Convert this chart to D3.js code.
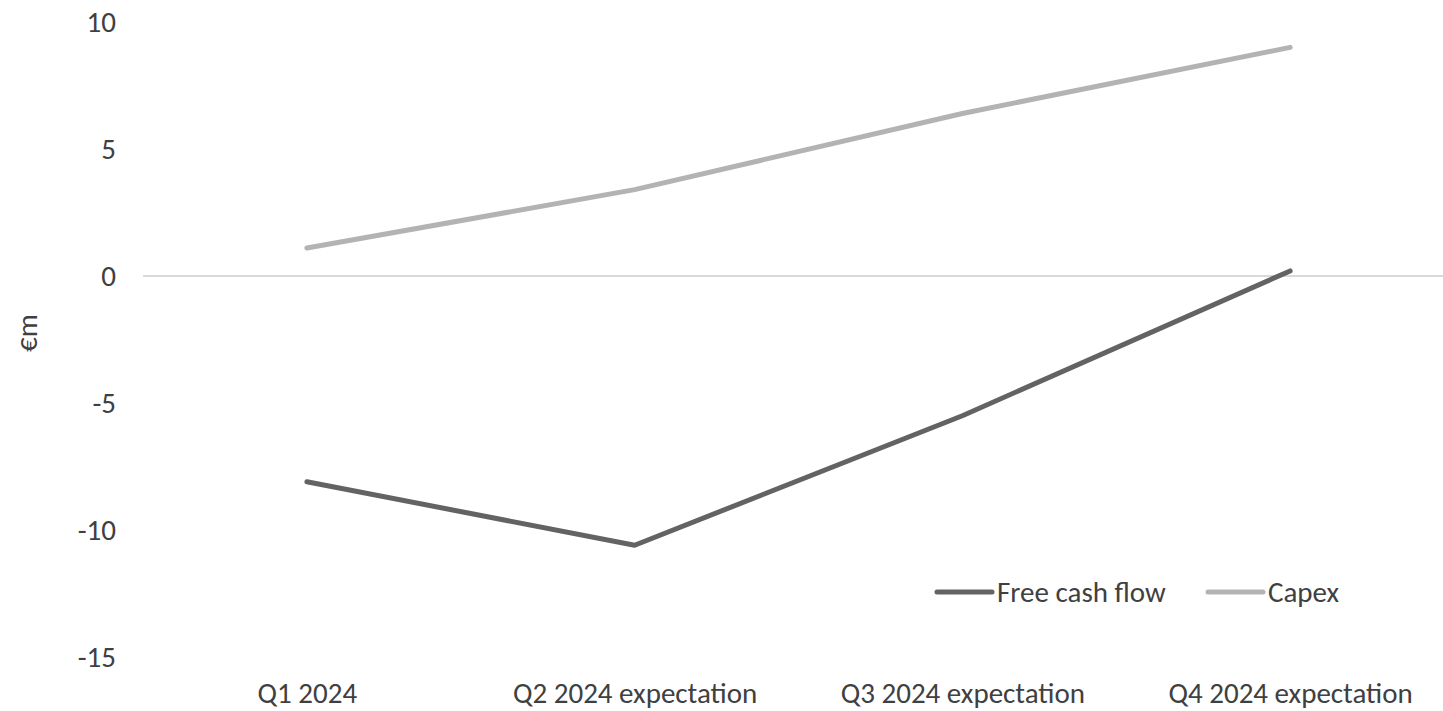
<!DOCTYPE html>
<html>
<head>
<meta charset="utf-8">
<script src="https://cdn.jsdelivr.net/npm/d3@7"></script>
<style>
  body { margin: 0; background: #fff; }
  svg text { font-family: Carlito, Calibri, Lato, "Open Sans", sans-serif; fill: #404040; }
</style>
</head>
<body>
<svg id="chart" width="1443" height="711"></svg>
<script>
// data
const categories = ["Q1 2024", "Q2 2024 expectation", "Q3 2024 expectation", "Q4 2024 expectation"];
const freeCashFlow = [-8.1, -10.6, -5.5, 0.2];
const capex = [1.1, 3.4, 6.4, 9.0];
const yTicks = [10, 5, 0, -5, -10, -15];
const seriesNames = ["Free cash flow", "Capex"];
const seriesColors = ["#636363", "#b3b3b3"];

const svg = d3.select("#chart");
const width = 1443, height = 711;
const margin = { top: 22, right: -11, bottom: 54, left: 143 };
const fontSize = 29;

// scales
const x = d3.scalePoint()
  .domain(categories)
  .range([margin.left, width - margin.right])
  .padding(0.5);

const y = d3.scaleLinear()
  .domain([-15, 10])
  .range([height - margin.bottom, margin.top]);

// zero line
svg.append("line")
  .attr("x1", margin.left)
  .attr("x2", width)
  .attr("y1", y(0))
  .attr("y2", y(0))
  .attr("stroke", "#d9d9d9")
  .attr("stroke-width", 2);

// y axis, labels only (plain hyphen for negatives)
const yAxis = g => g
  .attr("transform", "translate(" + 116 + ",0)")
  .call(d3.axisLeft(y).tickValues(yTicks).tickFormat(d => String(d)).tickSize(0).tickPadding(0))
  .call(g => g.select(".domain").remove());
svg.append("g").call(yAxis)
  .selectAll("text")
  .style("font-size", fontSize + "px")
  .attr("fill", "#404040");

// x axis, labels only
const xAxis = g => g
  .attr("transform", "translate(0," + 682 + ")")
  .call(d3.axisBottom(x).tickSize(0).tickPadding(0))
  .call(g => g.select(".domain").remove());
svg.append("g").call(xAxis)
  .selectAll("text")
  .style("font-size", fontSize + "px")
  .attr("fill", "#404040");

svg.selectAll("g").attr("font-family", null);

// y title
svg.append("text")
  .attr("transform", "translate(37," + 333 + ") rotate(-90)")
  .attr("text-anchor", "middle")
  .style("font-size", fontSize + "px")
  .text("€m");

// lines
const line = d3.line()
  .x((d, i) => x(categories[i]))
  .y(d => y(d));

[freeCashFlow, capex].forEach((vals, k) => {
  svg.append("path")
    .datum(vals)
    .attr("d", line)
    .attr("fill", "none")
    .attr("stroke", seriesColors[k])
    .attr("stroke-width", 5)
    .attr("stroke-linecap", "round")
    .attr("stroke-linejoin", "round");
});

// legend
const legendX = [937, 1208];
const legendY = 592;
seriesNames.forEach((name, k) => {
  svg.append("line")
    .attr("x1", legendX[k])
    .attr("x2", legendX[k] + 55)
    .attr("y1", legendY)
    .attr("y2", legendY)
    .attr("stroke", seriesColors[k])
    .attr("stroke-width", 5)
    .attr("stroke-linecap", "round");
  svg.append("text")
    .attr("x", legendX[k] + 60)
    .attr("y", legendY)
    .attr("dy", "0.35em")
    .style("font-size", fontSize + "px")
    .text(name);
});
</script>
</body>
</html>
